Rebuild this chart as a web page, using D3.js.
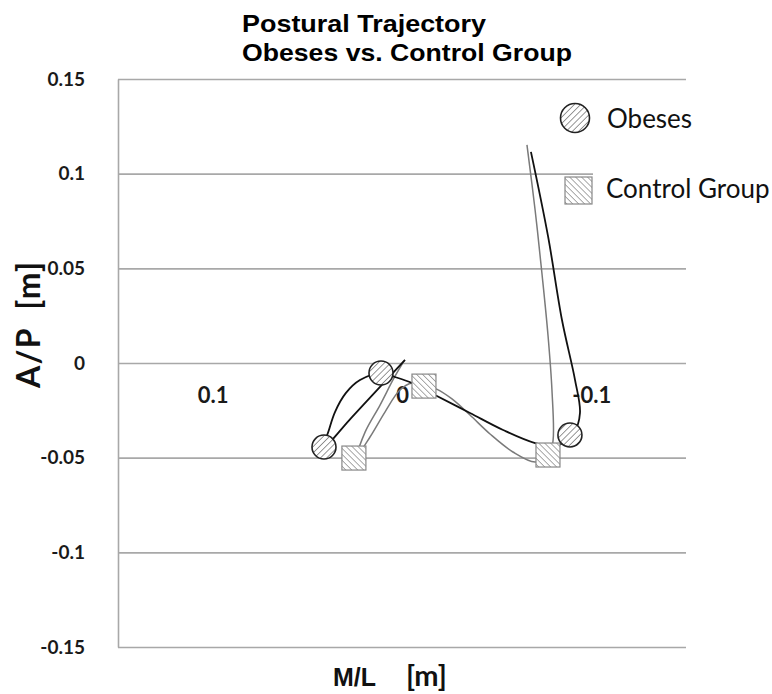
<!DOCTYPE html>
<html>
<head>
<meta charset="utf-8">
<script src="https://cdn.jsdelivr.net/npm/d3@7"></script>
<style>
  body { margin: 0; background: #fff; }
  svg { display: block; }
</style>
</head>
<body>
<script>
// Postural trajectory, obeses vs control group (M/L axis reversed)
const titleLines = ['Postural Trajectory', 'Obeses vs. Control Group'];
const seriesNames = ['Obeses', 'Control Group'];

const yTicks = [0.15, 0.1, 0.05, 0, -0.05, -0.1, -0.15];
const yTickLabels = ['0.15', '0.1', '0.05', '0', '-0.05', '-0.1', '-0.15'];
const xTicks = [0.1, 0, -0.1];
const xTickLabels = ['0.1', '0', '-0.1'];

// trajectory points, [m]
const obesesX = [-0.0681, -0.0771, -0.0845, -0.0914, -0.0940, -0.0909, -0.0814, -0.0703, -0.0534, -0.0359, -0.0174, -0.0053, 0.0037, 0.0111, 0.0222, 0.0296, 0.0354, 0.0386, 0.0412, 0.0269, 0.0132, -0.0016];
const obesesY = [0.1115, 0.0671, 0.0227, -0.0090, -0.0264, -0.0365, -0.0438, -0.0423, -0.0354, -0.0264, -0.0169, -0.0106, -0.0074, -0.0053, -0.0090, -0.0158, -0.0259, -0.0354, -0.0444, -0.0291, -0.0143, 0.0016];
const controlX = [-0.0660, -0.0703, -0.0740, -0.0771, -0.0792, -0.0798, -0.0777, -0.0703, -0.0586, -0.0465, -0.0359, -0.0264, -0.0180, -0.0116, -0.0053, 0.0011, 0.0090, 0.0169, 0.0238, 0.0195, 0.0116, 0.0042, -0.0011];
const controlY = [0.1152, 0.0808, 0.0465, 0.0148, -0.0143, -0.0407, -0.0491, -0.0523, -0.0470, -0.0375, -0.0275, -0.0190, -0.0137, -0.0116, -0.0106, -0.0143, -0.0259, -0.0391, -0.0491, -0.0365, -0.0222, -0.0079, 0.0011];

// phase markers
const obesesMarkX = [0.0111, 0.0412, -0.0887];
const obesesMarkY = [-0.0053, -0.0444, -0.0380];
const controlMarkX = [0.0254, -0.0116, -0.0771];
const controlMarkY = [-0.0502, -0.0122, -0.0486];

const W = 772, H = 694;
const plotL = 118, plotR = 686, plotT = 79, plotB = 647;
const calibri = 'Lato, "Open Sans", sans-serif';
const narrow = '"Liberation Sans Narrow", "Arial Narrow", "Liberation Sans", Arial, sans-serif';

const svg = d3.select('body').append('svg').attr('width', W).attr('height', H);

const x = d3.scaleLinear().domain([0.15, -0.15]).range([plotL, plotR]);
const y = d3.scaleLinear().domain([0.15, -0.15]).range([plotT, plotB]);

// hatch patterns
const defs = svg.append('defs');
function hatch(id, angle, color, gap) {
  const p = defs.append('pattern').attr('id', id).attr('patternUnits', 'userSpaceOnUse')
    .attr('width', gap).attr('height', gap).attr('patternTransform', `rotate(${angle})`);
  p.append('rect').attr('width', gap).attr('height', gap).attr('fill', '#fff');
  p.append('line').attr('x1', 0).attr('y1', 0).attr('x2', 0).attr('y2', gap)
    .attr('stroke', color).attr('stroke-width', 1.1);
}
hatch('hatchO', 45, '#444', 4.4);
hatch('hatchC', -45, '#666', 4.2);

// y axis + gridlines
const yAxis = svg.append('g').attr('transform', `translate(${plotL},0)`)
  .call(d3.axisLeft(y).tickValues(yTicks).tickSize(-(plotR - plotL)).tickSizeOuter(0).tickPadding(33)
    .tickFormat((d, i) => yTickLabels[i]));
yAxis.select('.domain').attr('stroke', '#a8a8a8').attr('stroke-width', 1.6);
yAxis.selectAll('.tick line').attr('stroke', '#a8a8a8').attr('stroke-width', 1.6);
yAxis.selectAll('.tick text').attr('fill', '#1a1a1a').style('font-family', calibri)
  .style('font-weight', 700).style('font-size', '19px');

// x tick labels sit just under the zero line
const xAxis = svg.append('g').attr('transform', `translate(0,${y(0) + 21})`)
  .call(d3.axisBottom(x).tickValues(xTicks).tickSize(0).tickFormat((d, i) => xTickLabels[i]));
xAxis.select('.domain').remove();
xAxis.selectAll('.tick text').attr('fill', '#1a1a1a').style('font-family', calibri)
  .style('font-weight', 700).style('font-size', '22px');

// legend box (covers part of the 0.1 gridline like the original)
svg.append('rect').attr('x', 593).attr('y', 150).attr('width', W - 593).attr('height', 60).attr('fill', '#fff');

// trajectories
const line = d3.line().x(d => x(d[0])).y(d => y(d[1])).curve(d3.curveCatmullRom.alpha(0.5));
svg.append('path').datum(d3.zip(controlX, controlY)).attr('d', line)
  .attr('fill', 'none').attr('stroke', '#7a7a7a').attr('stroke-width', 1.5);
svg.append('path').datum(d3.zip(obesesX, obesesY)).attr('d', line)
  .attr('fill', 'none').attr('stroke', '#111').attr('stroke-width', 1.8);

const sq = 24;
svg.selectAll('.mC').data(d3.zip(controlMarkX, controlMarkY)).enter().append('rect')
  .attr('x', d => x(d[0]) - sq / 2).attr('y', d => y(d[1]) - sq / 2).attr('width', sq).attr('height', sq)
  .attr('fill', 'url(#hatchC)').attr('stroke', '#888').attr('stroke-width', 1.2);
svg.selectAll('.mO').data(d3.zip(obesesMarkX, obesesMarkY)).enter().append('circle')
  .attr('cx', d => x(d[0])).attr('cy', d => y(d[1])).attr('r', 12)
  .attr('fill', 'url(#hatchO)').attr('stroke', '#222').attr('stroke-width', 1.6);

// legend
svg.append('circle').attr('cx', 575).attr('cy', 118).attr('r', 14.5)
  .attr('fill', 'url(#hatchO)').attr('stroke', '#222').attr('stroke-width', 1.6);
svg.append('rect').attr('x', 565).attr('y', 177).attr('width', 27).attr('height', 27)
  .attr('fill', 'url(#hatchC)').attr('stroke', '#888').attr('stroke-width', 1.2);
svg.append('text').attr('x', 607).attr('y', 128).text(seriesNames[0])
  .style('font-family', calibri).style('font-size', '26px').attr('fill', '#111');
svg.append('text').attr('x', 606).attr('y', 198).text(seriesNames[1])
  .style('font-family', calibri).style('font-size', '26px').attr('fill', '#111');

// title
svg.append('text').attr('x', 242).attr('y', 32).text(titleLines[0])
  .style('font-family', narrow).style('font-weight', 700).style('font-size', '24px')
  .attr('textLength', 244).attr('lengthAdjust', 'spacingAndGlyphs');
svg.append('text').attr('x', 242).attr('y', 61).text(titleLines[1])
  .style('font-family', narrow).style('font-weight', 700).style('font-size', '24px')
  .attr('textLength', 330).attr('lengthAdjust', 'spacingAndGlyphs');

// axis titles
const xt = svg.append('text').attr('y', 686).attr('fill', '#111').style('font-weight', 700);
xt.append('tspan').attr('x', 333).text('M/L').style('font-family', narrow).style('font-size', '25px')
  .attr('textLength', 43).attr('lengthAdjust', 'spacingAndGlyphs');
xt.append('tspan').attr('x', 406).text('[m]').style('font-family', calibri).style('font-size', '29px');

svg.append('text').attr('transform', 'translate(40,325) rotate(-90)').attr('text-anchor', 'middle')
  .attr('fill', '#111').style('font-family', calibri).style('font-weight', 700).style('font-size', '32px')
  .attr('xml:space', 'preserve').attr('textLength', 126).attr('lengthAdjust', 'spacing').text('A/P  [m]');
</script>
</body>
</html>
